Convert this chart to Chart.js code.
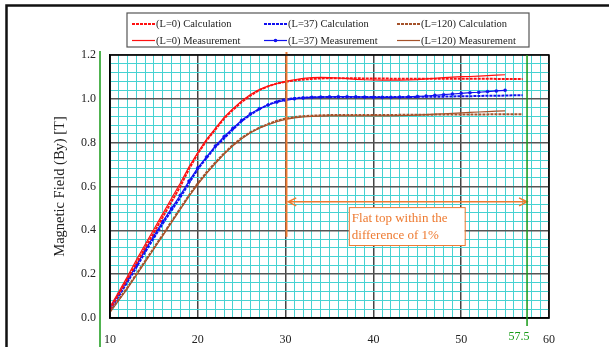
<!DOCTYPE html>
<html>
<head>
<meta charset="utf-8">
<script src="https://cdn.jsdelivr.net/npm/chart.js@4.4.1/dist/chart.umd.min.js"></script>
<style>
  html, body { margin: 0; padding: 0; background: #fff; }
  #wrap { width: 609px; height: 347px; position: relative; }
</style>
</head>
<body>
<div id="wrap"><canvas id="fieldChart"></canvas></div>
<script>
// Position along the magnet (x axis) and field values
const xCalc = [10, 11, 12, 13, 14, 15, 16, 17, 18, 19, 20, 21, 22, 23, 24, 25, 26, 27, 28, 29, 30, 31, 32, 33, 34, 35, 36, 37, 38, 39, 40, 41, 42, 43, 44, 45, 46, 47, 48, 49, 50, 51, 52, 53, 54, 55, 56, 57];
const xMeas = [10, 11, 12, 13, 14, 15, 16, 17, 18, 19, 20, 21, 22, 23, 24, 25, 26, 27, 28, 29, 30, 31, 32, 33, 34, 35, 36, 37, 38, 39, 40, 41, 42, 43, 44, 45, 46, 47, 48, 49, 50, 51, 52, 53, 54, 55];

const calcL0 = [0.04, 0.11, 0.18, 0.25, 0.32, 0.39, 0.46, 0.53, 0.60, 0.68, 0.75, 0.81, 0.86, 0.91, 0.95, 0.985, 1.015, 1.04, 1.057, 1.07, 1.078, 1.084, 1.088, 1.091, 1.093, 1.094, 1.094, 1.094, 1.094, 1.093, 1.093, 1.093, 1.092, 1.092, 1.092, 1.092, 1.092, 1.092, 1.092, 1.092, 1.092, 1.092, 1.092, 1.092, 1.091, 1.091, 1.09, 1.09];
const measL0 = [0.05, 0.12, 0.19, 0.265, 0.335, 0.405, 0.475, 0.545, 0.615, 0.69, 0.755, 0.815, 0.865, 0.915, 0.955, 0.99, 1.02, 1.042, 1.058, 1.07, 1.08, 1.087, 1.093, 1.097, 1.098, 1.097, 1.095, 1.092, 1.089, 1.087, 1.086, 1.085, 1.085, 1.085, 1.086, 1.088, 1.091, 1.094, 1.097, 1.099, 1.101, 1.102, 1.104, 1.106, 1.108, 1.11];

const calcL37 = [0.04, 0.10, 0.165, 0.23, 0.30, 0.365, 0.43, 0.49, 0.55, 0.615, 0.68, 0.73, 0.78, 0.82, 0.86, 0.898, 0.928, 0.953, 0.973, 0.988, 0.998, 1.003, 1.006, 1.007, 1.008, 1.008, 1.008, 1.008, 1.008, 1.008, 1.008, 1.008, 1.008, 1.008, 1.008, 1.009, 1.009, 1.01, 1.01, 1.011, 1.012, 1.012, 1.013, 1.014, 1.014, 1.015, 1.016, 1.016];
const measL37 = [0.05, 0.11, 0.175, 0.24, 0.31, 0.375, 0.44, 0.50, 0.56, 0.625, 0.685, 0.735, 0.785, 0.828, 0.866, 0.902, 0.932, 0.955, 0.972, 0.985, 0.993, 1.0, 1.004, 1.007, 1.008, 1.009, 1.01, 1.01, 1.009, 1.008, 1.007, 1.007, 1.007, 1.008, 1.009, 1.011, 1.013, 1.016, 1.019, 1.022, 1.025, 1.028, 1.03, 1.033, 1.036, 1.039];

const calcL120 = [0.03, 0.085, 0.14, 0.2, 0.26, 0.32, 0.38, 0.44, 0.50, 0.56, 0.615, 0.665, 0.71, 0.752, 0.79, 0.822, 0.848, 0.868, 0.885, 0.9, 0.91, 0.917, 0.921, 0.923, 0.925, 0.926, 0.926, 0.926, 0.926, 0.926, 0.926, 0.926, 0.926, 0.927, 0.927, 0.927, 0.927, 0.928, 0.928, 0.928, 0.928, 0.929, 0.929, 0.929, 0.93, 0.93, 0.93, 0.93];
const measL120 = [0.025, 0.08, 0.135, 0.195, 0.255, 0.315, 0.375, 0.435, 0.495, 0.555, 0.61, 0.66, 0.705, 0.748, 0.786, 0.818, 0.845, 0.866, 0.882, 0.896, 0.906, 0.913, 0.917, 0.92, 0.921, 0.922, 0.922, 0.922, 0.922, 0.922, 0.922, 0.922, 0.922, 0.923, 0.924, 0.926, 0.928, 0.93, 0.932, 0.934, 0.936, 0.938, 0.94, 0.942, 0.944, 0.945];

// Annotation values (data units)
const flatStart = 30.1;
const flatEnd = 57.5;
const arrowLevel = 0.53;
const noteLines = ['Flat top within the', 'difference of 1%'];

// Colors
const RED = '#ff1010';
const BLUE = '#1010f0';
const BROWN = '#a5522a';
const ORANGE = '#ee7a30';
const GREEN = '#169a16';
const CYAN = '#46d2d2';
const SERIF = '"Liberation Serif", "Times New Roman", serif';

const toPoints = (xs, ys) => xs.map((x, i) => ({ x: x, y: ys[i] }));

// Calculation = dashed thick, measurement = thin solid
const calcStyle = (color) => ({
    borderColor: color, backgroundColor: color, borderWidth: 2,
    borderDash: [3, 1], pointRadius: 0, tension: 0
});
const measStyle = (color, markers) => ({
    borderColor: color, backgroundColor: color, borderWidth: 1.2,
    pointRadius: markers ? 1.5 : 0, pointBorderWidth: 0.5, pointStyle: 'circle', tension: 0
});

const datasets = [
    { label: '(L=0) Calculation', data: toPoints(xCalc, calcL0), ...calcStyle(RED) },
    { label: '(L=37) Calculation', data: toPoints(xCalc, calcL37), ...calcStyle(BLUE) },
    { label: '(L=120) Calculation', data: toPoints(xCalc, calcL120), ...calcStyle(BROWN) },
    { label: '(L=0) Measurement', data: toPoints(xMeas, measL0), ...measStyle(RED, false) },
    { label: '(L=37) Measurement', data: toPoints(xMeas, measL37), ...measStyle(BLUE, true) },
    { label: '(L=120) Measurement', data: toPoints(xMeas, measL120), ...measStyle(BROWN, false) }
];

// Page frame, green guide lines, plot border
const framePlugin = {
    id: 'frame',
    afterDraw(chart) {
        const { ctx, chartArea: a, scales: { x, y } } = chart;
        ctx.save();
        // outer black frame (top / left)
        ctx.strokeStyle = '#111';
        ctx.lineWidth = 2.5;
        ctx.beginPath();
        ctx.moveTo(6.5, 347);
        ctx.lineTo(6.5, 5.5);
        ctx.lineTo(609, 5.5);
        ctx.stroke();
        // plot border
        ctx.strokeStyle = '#000';
        ctx.lineWidth = 1.5;
        ctx.strokeRect(a.left, a.top, a.right - a.left, a.bottom - a.top);
        // green line on the left
        ctx.strokeStyle = GREEN;
        ctx.lineWidth = 1.5;
        ctx.beginPath();
        ctx.moveTo(100, 51);
        ctx.lineTo(100, 347);
        ctx.stroke();
        // green 57.5 marker
        const gx = x.getPixelForValue(flatEnd);
        ctx.beginPath();
        ctx.moveTo(gx, a.top);
        ctx.lineTo(gx, 326);
        ctx.stroke();
        ctx.fillStyle = GREEN;
        ctx.font = '12px ' + SERIF;
        ctx.textAlign = 'center';
        ctx.textBaseline = 'middle';
        ctx.fillText('57.5', gx - 8, 337);
        ctx.restore();
    }
};

// Flat-top annotation: orange line, double arrow, boxed note
const notePlugin = {
    id: 'note',
    afterDatasetsDraw(chart) {
        const { ctx, scales: { x, y } } = chart;
        ctx.save();
        ctx.strokeStyle = ORANGE;
        ctx.lineWidth = 2;
        const ox = x.getPixelForValue(flatStart);
        ctx.beginPath();
        ctx.moveTo(ox, y.getPixelForValue(1.2) - 3);
        ctx.lineTo(ox, y.getPixelForValue(0.37));
        ctx.stroke();

        const ay = y.getPixelForValue(arrowLevel);
        const ax1 = x.getPixelForValue(flatStart + 0.2);
        const ax2 = x.getPixelForValue(flatEnd);
        ctx.lineWidth = 1.5;
        ctx.beginPath();
        ctx.moveTo(ax1, ay);
        ctx.lineTo(ax2, ay);
        ctx.moveTo(ax1 + 8, ay - 4);
        ctx.lineTo(ax1, ay);
        ctx.lineTo(ax1 + 8, ay + 4);
        ctx.moveTo(ax2 - 8, ay - 4);
        ctx.lineTo(ax2, ay);
        ctx.lineTo(ax2 - 8, ay + 4);
        ctx.stroke();

        const bx1 = x.getPixelForValue(37.2), bx2 = x.getPixelForValue(50.4);
        const by1 = y.getPixelForValue(0.506), by2 = y.getPixelForValue(0.333);
        ctx.fillStyle = '#fff';
        ctx.fillRect(bx1, by1, bx2 - bx1, by2 - by1);
        ctx.lineWidth = 1;
        ctx.strokeRect(bx1 + 0.5, by1 + 0.5, bx2 - bx1, by2 - by1);
        ctx.fillStyle = ORANGE;
        ctx.font = '13px ' + SERIF;
        ctx.textAlign = 'left';
        ctx.textBaseline = 'middle';
        ctx.fillText(noteLines[0], bx1 + 3, by1 + 11);
        ctx.fillText(noteLines[1], bx1 + 3, by1 + 28);
        ctx.restore();
    }
};

// Boxed 3x2 legend above the plot
const legendPlugin = {
    id: 'boxLegend',
    afterDraw(chart) {
        const { ctx } = chart;
        const box = { left: 127, top: 13, right: 529, bottom: 47 };
        const cols = [132, 264, 397];
        const rows = [24, 40.5];
        ctx.save();
        ctx.strokeStyle = '#555';
        ctx.lineWidth = 1.2;
        ctx.strokeRect(box.left, box.top, box.right - box.left, box.bottom - box.top);
        ctx.font = '10.5px ' + SERIF;
        ctx.textBaseline = 'middle';
        ctx.textAlign = 'left';
        chart.data.datasets.forEach((ds, i) => {
            const cx = cols[i % 3];
            const cy = rows[Math.floor(i / 3)];
            ctx.strokeStyle = ds.borderColor;
            ctx.lineWidth = ds.borderWidth;
            ctx.setLineDash(ds.borderDash || []);
            ctx.beginPath();
            ctx.moveTo(cx, cy);
            ctx.lineTo(cx + 23, cy);
            ctx.stroke();
            ctx.setLineDash([]);
            if (ds.pointRadius > 0) {
                ctx.fillStyle = ds.borderColor;
                ctx.beginPath();
                ctx.arc(cx + 11.5, cy, 1.8, 0, Math.PI * 2);
                ctx.fill();
            }
            ctx.fillStyle = '#222';
            ctx.fillText(ds.label, cx + 24, cy + 0.5);
        });
        ctx.restore();
    }
};

const isMajorX = (v) => Math.round(v) % 10 === 0;
const isMajorY = (v) => Math.round(v * 100) % 20 === 0;

const ctx = document.getElementById('fieldChart').getContext('2d');
const chart = new Chart(ctx, {
    type: 'line',
    data: { datasets: datasets },
    options: {
        responsive: true,
        maintainAspectRatio: false,
        animation: false,
        events: [],
        layout: { padding: { top: 55, right: 60, left: 0, bottom: 0 } },
        plugins: {
            legend: { display: false },
            tooltip: { enabled: false }
        },
        scales: {
            x: {
                type: 'linear',
                min: 10,
                max: 60,
                afterFit: (s) => { s.height = 29; },
                border: { display: true, color: '#000', width: 1.5 },
                grid: {
                    drawTicks: false,
                    color: (c) => isMajorX(c.tick.value) ? '#444' : CYAN,
                    lineWidth: (c) => isMajorX(c.tick.value) ? 1.5 : 1
                },
                ticks: {
                    stepSize: 1,
                    autoSkip: false,
                    maxRotation: 0,
                    padding: 15,
                    color: '#222',
                    font: { family: SERIF, size: 12 },
                    callback: (v) => isMajorX(v) ? String(Math.round(v)) : ''
                }
            },
            y: {
                type: 'linear',
                min: 0,
                max: 1.2,
                afterFit: (s) => { s.width = 110; },
                border: { display: true, color: '#000', width: 1.5 },
                grid: {
                    drawTicks: false,
                    color: (c) => isMajorY(c.tick.value) ? '#555' : CYAN,
                    lineWidth: (c) => isMajorY(c.tick.value) ? 1.5 : 1
                },
                ticks: {
                    stepSize: 0.04,
                    autoSkip: false,
                    padding: 14,
                    color: '#222',
                    font: { family: SERIF, size: 12 },
                    callback: (v) => isMajorY(v) ? v.toFixed(1) : ''
                },
                title: {
                    display: true,
                    text: 'Magnetic Field (By) [T]',
                    color: '#222',
                    font: { family: SERIF, size: 14.5 },
                    padding: { top: 51, bottom: 0 }
                }
            }
        }
    },
    plugins: [framePlugin, notePlugin, legendPlugin]
});
</script>
</body>
</html>
